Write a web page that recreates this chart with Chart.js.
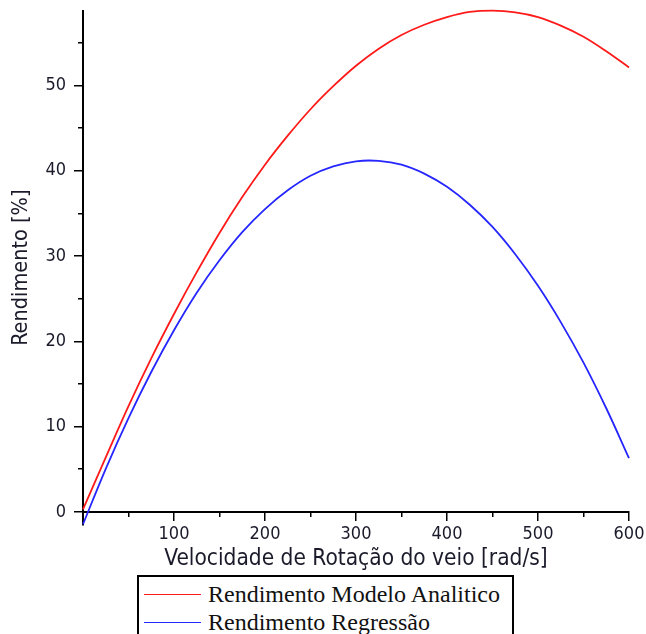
<!DOCTYPE html>
<html>
<head>
<meta charset="utf-8">
<script src="https://cdn.jsdelivr.net/npm/chart.js@4/dist/chart.umd.min.js"></script>
<style>
  html, body { margin: 0; padding: 0; background: #ffffff; }
  #wrap { position: relative; width: 646px; height: 634px; overflow: hidden; }
  #grafico { position: absolute; left: 0; top: 0; }
  #legenda {
    position: absolute; left: 137px; top: 575px; width: 377px; height: 80px;
    border: 2px solid #000; box-sizing: border-box; background: #fff;
    font-family: "Liberation Serif", "Times New Roman", serif; font-size: 24px; color: #111;
  }
  #legenda .item { position: absolute; left: 5px; height: 26px; display: flex; align-items: center; }
  #legenda .amostra { width: 57px; height: 0; border-top: 1.5px solid; margin-right: 7px; }
</style>
</head>
<body>
<div id="wrap">
  <canvas id="grafico" width="646" height="634"></canvas>
  <div id="legenda"></div>
</div>
<script>
// Velocidade de rotação do veio [rad/s]
const velocidade = [0, 25, 50, 75, 100, 125, 150, 175, 200, 225, 250, 275, 300,
                    325, 350, 375, 400, 425, 450, 475, 500, 525, 550, 575, 600];
// Rendimento [%] – modelo analítico
const rendAnalitico = [0.3, 6.4, 12.4, 18.0, 23.2, 28.1, 32.7, 36.9, 40.7, 44.1, 47.2, 49.9, 52.3,
                       54.3, 55.9, 57.1, 58.0, 58.6, 58.75, 58.55, 58.0, 57.0, 55.7, 54.0, 52.1];
// Rendimento [%] – regressão
const rendRegressao = [-1.45, 5.05, 11.0, 16.4, 21.3, 25.7, 29.5, 32.8, 35.5, 37.7, 39.4, 40.5, 41.1,
                       41.15, 40.7, 39.65, 38.1, 36.0, 33.4, 30.2, 26.5, 22.25, 17.5, 12.15, 6.3];

const serieNomes = ['Rendimento Modelo Analítico', 'Rendimento Regressão'];
const serieNomesLegenda = ['Rendimento Modelo Analitico', 'Rendimento Regressão'];
const serieCores = ['#ff1a1a', '#2626ff'];

const xTicksMaiores = [100, 200, 300, 400, 500, 600];
const xTicksMenores = [50, 150, 250, 350, 450, 550];
const yTicksMaiores = [0, 10, 20, 30, 40, 50];
const yTicksMenores = [5, 15, 25, 35, 45, 55];

const X_MIN = 0, X_MAX = 600, Y_MIN = -1.5, Y_MAX = 58.75;

const familiaSans = '"DejaVu Sans Condensed", "DejaVu Sans", sans-serif';
const fonteTicks = { family: familiaSans, size: 18 };
const fonteTituloX = { family: familiaSans, size: 22.5 };
const fonteTituloY = { family: familiaSans, size: 21.5 };

function pontos(valores) {
  return velocidade.map((v, i) => ({ x: v, y: valores[i] }));
}
function fixarTicks(lista) {
  return scale => { scale.ticks = lista.map(v => ({ value: v })); };
}
// Tamanho fixo de cada eixo, sem folgas automáticas para os rótulos
function ajustarEixo(largura, altura) {
  return s => {
    if (largura !== null) s.width = largura;
    if (altura !== null) s.height = altura;
    s.paddingTop = 0; s.paddingBottom = 0; s.paddingLeft = 0; s.paddingRight = 0;
  };
}

const eixoComum = {
  type: 'linear',
  grid: { drawOnChartArea: false, drawTicks: true, color: '#000', lineWidth: 1.5 },
  border: { display: true, color: '#000', width: 2 }
};

const chart = new Chart(document.getElementById('grafico'), {
  type: 'line',
  data: {
    datasets: [
      { label: serieNomes[0], data: pontos(rendAnalitico), borderColor: serieCores[0], backgroundColor: serieCores[0],
        borderWidth: 1.8, pointRadius: 0, tension: 0.35, clip: 4 },
      { label: serieNomes[1], data: pontos(rendRegressao), borderColor: serieCores[1], backgroundColor: serieCores[1],
        borderWidth: 1.8, pointRadius: 0, tension: 0.35, clip: 4 }
    ]
  },
  options: {
    responsive: false,
    animation: false,
    devicePixelRatio: 1,
    layout: { padding: { left: 0, right: 17, top: 10.7, bottom: 109.3 } },
    plugins: { legend: { display: false }, tooltip: { enabled: false } },
    scales: {
      x: Object.assign({}, eixoComum, {
        position: { y: 0 }, min: X_MIN, max: X_MAX,
        afterBuildTicks: fixarTicks(xTicksMaiores),
        afterFit: ajustarEixo(null, 61),
        grid: Object.assign({}, eixoComum.grid, { tickLength: 8 }),
        ticks: { font: fonteTicks, color: '#1a1a2a', padding: 4, maxRotation: 0, autoSkip: false },
        title: { display: true, text: 'Velocidade de Rotação do veio [rad/s]', font: fonteTituloX, color: '#1a1a2a',
                 padding: { top: 0, bottom: 0 } }
      }),
      xMenor: Object.assign({}, eixoComum, {
        axis: 'x', position: { y: 0 }, min: X_MIN, max: X_MAX,
        afterBuildTicks: fixarTicks(xTicksMenores),
        afterFit: ajustarEixo(null, 0),
        border: { display: false },
        grid: Object.assign({}, eixoComum.grid, { tickLength: 5 }),
        ticks: { display: false, autoSkip: false }
      }),
      y: Object.assign({}, eixoComum, {
        position: 'left', min: Y_MIN, max: Y_MAX,
        afterBuildTicks: fixarTicks(yTicksMaiores),
        afterFit: ajustarEixo(83, null),
        grid: Object.assign({}, eixoComum.grid, { tickLength: 9 }),
        ticks: { font: fonteTicks, color: '#1a1a2a', padding: 8, autoSkip: false },
        title: { display: true, text: 'Rendimento [%]', font: fonteTituloY, color: '#1a1a2a',
                 padding: { top: 9, bottom: 0 } }
      }),
      yMenor: Object.assign({}, eixoComum, {
        axis: 'y', position: { x: 0 }, min: Y_MIN, max: Y_MAX,
        afterBuildTicks: fixarTicks(yTicksMenores),
        afterFit: ajustarEixo(0, null),
        border: { display: false },
        grid: Object.assign({}, eixoComum.grid, { tickLength: 5 }),
        ticks: { display: false, autoSkip: false }
      })
    }
  }
});

// Legenda com caixa, construída a partir das séries do gráfico
const legenda = document.getElementById('legenda');
chart.data.datasets.forEach((ds, i) => {
  const item = document.createElement('div');
  item.className = 'item';
  item.style.top = (4 + i * 28) + 'px';
  const amostra = document.createElement('span');
  amostra.className = 'amostra';
  amostra.style.borderTopColor = ds.borderColor;
  const texto = document.createElement('span');
  texto.textContent = serieNomesLegenda[i];
  item.appendChild(amostra);
  item.appendChild(texto);
  legenda.appendChild(item);
});
</script>
</body>
</html>
